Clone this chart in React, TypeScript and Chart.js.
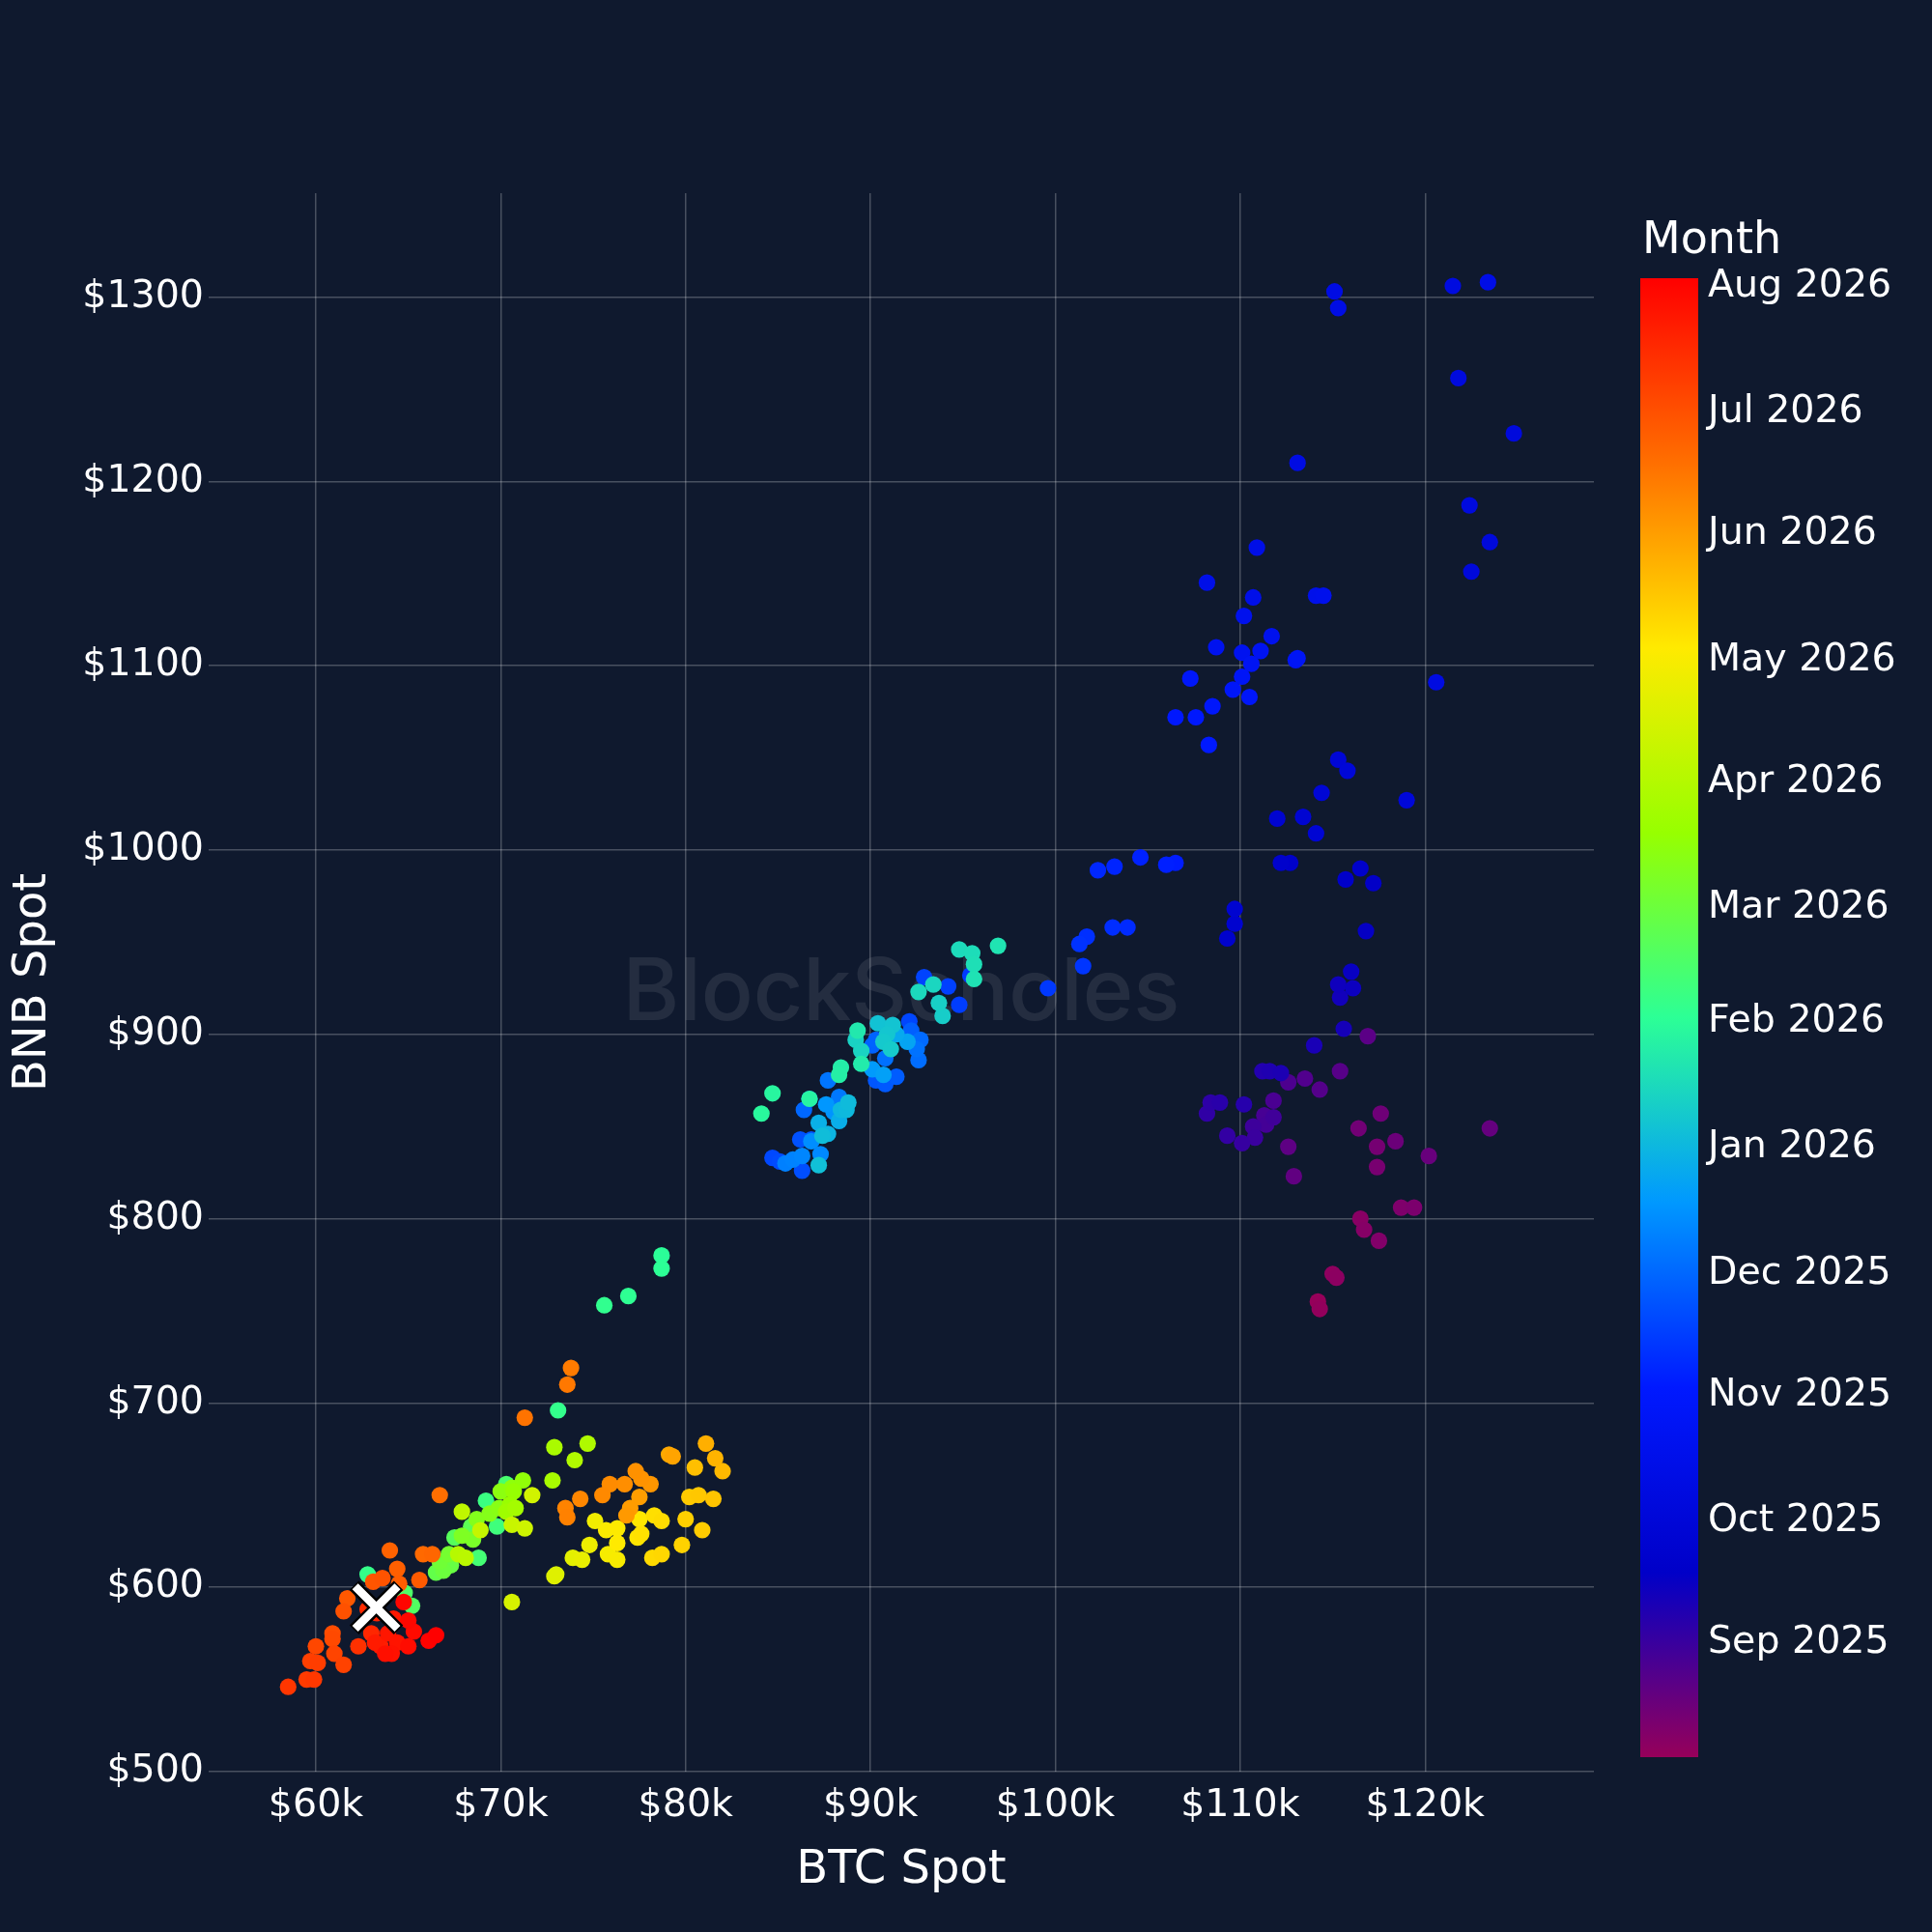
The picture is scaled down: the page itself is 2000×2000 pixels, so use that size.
import { useEffect, useRef } from "react";
import { Chart, registerables } from "chart.js";

Chart.register(...registerables);

// each point: [day of month, BTC spot ($k), BNB spot ($)]
type Pt = [number, number, number];

const aug2025: Pt[] = [
  [4, 114.2, 755], [5, 114.3, 751], [6, 115.0, 770], [7, 115.2, 768], [8, 116.5, 800],
  [9, 116.7, 794], [10, 117.5, 788], [11, 118.7, 806], [12, 119.4, 806], [13, 117.4, 828],
  [14, 117.4, 839], [15, 116.4, 849], [16, 117.6, 857], [17, 118.4, 842], [18, 120.2, 834],
  [19, 123.5, 849], [20, 112.9, 823], [21, 112.6, 839], [22, 116.9, 899], [23, 115.4, 880],
  [24, 114.3, 870], [25, 113.5, 876], [26, 112.6, 874], [27, 111.8, 864], [28, 111.3, 856],
  [29, 111.4, 851], [30, 111.8, 855], [31, 110.7, 850],
];
const sep2025: Pt[] = [
  [1, 110.8, 844], [2, 110.1, 841], [3, 109.3, 845], [4, 108.2, 857], [5, 108.4, 863],
  [6, 108.9, 863], [7, 110.2, 862], [8, 111.2, 880], [9, 111.6, 880], [10, 112.2, 879],
  [11, 114.0, 894], [12, 115.6, 903], [13, 115.4, 920], [14, 115.3, 927], [15, 116.1, 925],
  [16, 116.0, 934], [17, 116.8, 956], [18, 117.2, 982], [19, 115.7, 984], [20, 116.5, 990],
  [21, 112.7, 993], [22, 112.2, 993], [23, 109.3, 952], [24, 109.7, 960], [25, 109.7, 968],
  [26, 112.0, 1017], [27, 113.4, 1018], [28, 114.1, 1009], [29, 114.4, 1031], [30, 115.3, 1049],
];
const oct2025: Pt[] = [
  [1, 115.8, 1043], [2, 119.0, 1027], [3, 122.5, 1151], [4, 123.5, 1167], [5, 124.8, 1226],
  [6, 122.4, 1187], [7, 121.8, 1256], [8, 121.5, 1306], [9, 120.6, 1091], [10, 113.1, 1210],
  [11, 115.1, 1303], [12, 115.3, 1294], [13, 123.4, 1308], [14, 110.9, 1164], [15, 108.2, 1145],
  [16, 110.7, 1137], [17, 114.1, 1138], [18, 114.5, 1138], [19, 110.2, 1127], [20, 111.7, 1116],
  [21, 108.7, 1110], [22, 110.1, 1107], [23, 111.1, 1108], [24, 110.6, 1101], [25, 113.0, 1103],
  [26, 113.1, 1104], [27, 110.1, 1094], [28, 109.6, 1087], [29, 110.5, 1083], [30, 107.3, 1093],
  [31, 108.5, 1078],
];
const nov2025: Pt[] = [
  [1, 107.6, 1072], [2, 106.5, 1072], [3, 108.3, 1057], [4, 106.5, 993], [5, 106.0, 992],
  [6, 104.6, 996], [7, 103.2, 991], [8, 102.3, 989], [9, 103.9, 958], [10, 103.1, 958],
  [11, 101.7, 953], [12, 101.3, 949], [13, 101.5, 937], [14, 99.6, 925], [15, 95.4, 932],
  [16, 94.8, 916], [17, 94.2, 926], [18, 92.9, 931], [19, 92.1, 907], [20, 84.7, 833],
  [21, 85.1, 831], [22, 86.3, 826], [23, 86.2, 843], [24, 86.8, 843], [25, 90.3, 875],
  [26, 90.8, 873], [27, 91.4, 877], [28, 92.2, 902], [29, 90.1, 894], [30, 90.3, 897],
];
const dec2025: Pt[] = [
  [1, 86.4, 859], [2, 92.7, 897], [3, 92.6, 886], [4, 90.8, 887], [5, 92.5, 892],
  [6, 87.7, 875], [7, 88.3, 866], [8, 86.7, 865], [10, 85.4, 830], [11, 85.8, 832],
  [12, 86.3, 834], [13, 87.3, 835], [15, 86.8, 842], [17, 88.0, 858], [18, 87.6, 862],
  [20, 90.1, 881], [22, 90.7, 878], [24, 92.0, 896], [26, 91.4, 900], [28, 88.3, 853],
  [29, 87.2, 852], [31, 87.7, 846],
];
const jan2026: Pt[] = [
  [1, 88.4, 859], [2, 88.7, 859], [3, 88.8, 863], [4, 87.4, 845], [5, 87.2, 829],
  [6, 90.4, 906], [7, 91.2, 905], [8, 90.9, 900], [9, 90.7, 896], [10, 91.1, 892],
  [11, 93.9, 910], [12, 93.7, 917], [13, 89.2, 897], [14, 89.5, 891], [15, 93.4, 927],
  [16, 92.6, 923], [17, 94.8, 946], [18, 95.5, 944], [19, 95.6, 938], [20, 95.6, 930],
  [21, 96.9, 948], [23, 89.3, 902], [24, 89.5, 884], [25, 88.4, 882], [26, 88.3, 878],
  [28, 86.7, 865], [29, 84.7, 868], [30, 84.1, 857],
];
const feb2026: Pt[] = [
  [1, 78.7, 780], [2, 78.7, 773], [3, 76.9, 758], [4, 75.6, 753], [5, 73.1, 696],
  [6, 62.8, 607], [8, 69.2, 647], [10, 69.8, 633], [12, 68.8, 616], [14, 70.3, 656],
  [16, 64.8, 597], [18, 65.2, 590], [20, 67.5, 627], [22, 68.4, 633], [25, 66.5, 608],
  [27, 67.3, 612],
];
const mar2026: Pt[] = [
  [1, 66.9, 609], [3, 66.7, 614], [5, 67.2, 618], [7, 68.5, 626], [9, 67.9, 628],
  [11, 68.7, 637], [12, 69.4, 640], [13, 69.9, 643], [15, 70.0, 652], [16, 70.6, 654],
  [17, 71.2, 658], [19, 70.7, 652], [21, 70.5, 645], [23, 70.3, 641], [25, 70.8, 643],
  [27, 72.8, 658], [28, 72.9, 676], [30, 74.7, 678], [31, 74.0, 669],
];
const apr2026: Pt[] = [
  [2, 67.7, 618], [4, 68.1, 616], [6, 67.9, 641], [8, 68.9, 631], [10, 70.6, 634],
  [12, 71.3, 632], [14, 71.7, 650], [16, 70.6, 592], [18, 73.0, 607], [20, 72.9, 606],
  [22, 73.9, 616], [24, 74.4, 615], [26, 74.8, 623], [28, 75.1, 636], [30, 75.8, 618],
];
const may2026: Pt[] = [
  [1, 76.3, 615], [2, 75.7, 631], [3, 76.3, 632], [4, 76.3, 624], [5, 77.5, 637],
  [6, 77.4, 627], [7, 77.6, 629], [8, 78.3, 639], [9, 78.7, 636], [10, 78.2, 616],
  [11, 78.7, 618], [13, 79.8, 623], [14, 80.0, 637], [15, 80.9, 631], [16, 80.2, 649],
  [17, 80.7, 650], [18, 81.5, 648], [20, 80.5, 665], [22, 82.0, 663], [24, 81.6, 670],
  [26, 81.1, 678], [28, 79.1, 672], [30, 79.3, 671],
];
const jun2026: Pt[] = [
  [1, 77.5, 649], [2, 77.0, 643], [3, 76.8, 639], [4, 78.1, 656], [5, 77.6, 659],
  [6, 77.3, 663], [7, 76.7, 656], [8, 75.9, 656], [9, 75.5, 650], [10, 74.3, 648],
  [11, 73.5, 643], [12, 73.6, 638], [14, 73.8, 719], [15, 73.6, 710], [17, 71.3, 692],
  [19, 66.7, 650], [21, 65.8, 618], [22, 66.3, 618], [24, 64.0, 620], [25, 64.4, 610],
  [26, 64.5, 602], [27, 65.6, 604], [28, 61.7, 594], [29, 63.1, 603], [30, 63.6, 605],
];
const jul2026: Pt[] = [
  [1, 61.5, 587], [3, 60.9, 575], [4, 60.9, 572], [5, 60.0, 568],
  [6, 61.0, 564], [7, 61.5, 558], [8, 59.7, 560], [9, 60.1, 559], [10, 59.5, 550],
  [11, 59.9, 550], [12, 58.5, 546], [14, 62.3, 568], [16, 62.8, 588], [18, 63.0, 575],
  [20, 63.3, 586], [22, 63.5, 568], [23, 63.2, 570], [24, 64.2, 583], [25, 63.9, 575],
  [26, 64.4, 570], [27, 64.1, 564], [28, 63.75, 564], [29, 65.0, 568], [30, 65.3, 576],
  [31, 65.0, 582],
];
const aug2026: Pt[] = [[1, 64.75, 592], [2, 66.1, 571], [3, 66.5, 574]];

// [year, month index, points]
const series: [number, number, Pt[]][] = [
  [2025, 7, aug2025], [2025, 8, sep2025], [2025, 9, oct2025], [2025, 10, nov2025],
  [2025, 11, dec2025], [2026, 0, jan2026], [2026, 1, feb2026], [2026, 2, mar2026],
  [2026, 3, apr2026], [2026, 4, may2026], [2026, 5, jun2026], [2026, 6, jul2026],
  [2026, 7, aug2026],
];

// latest spot (white X)
const current = { x: 63.27, y: 589 };

const xTicks = [60, 70, 80, 90, 100, 110, 120];
const yTicks = [500, 600, 700, 800, 900, 1000, 1100, 1200, 1300];

const colorbarTicks: [number, number, string][] = [
  [2025, 8, "Sep 2025"], [2025, 9, "Oct 2025"], [2025, 10, "Nov 2025"], [2025, 11, "Dec 2025"],
  [2026, 0, "Jan 2026"], [2026, 1, "Feb 2026"], [2026, 2, "Mar 2026"], [2026, 3, "Apr 2026"],
  [2026, 4, "May 2026"], [2026, 5, "Jun 2026"], [2026, 6, "Jul 2026"], [2026, 7, "Aug 2026"],
];

const BG = "#0f192e";
const GRID = "rgba(255,255,255,0.24)";
const FONT = "'DejaVu Sans', sans-serif";

// plotly "Rainbow"
const rainbow: [number, [number, number, number]][] = [
  [0, [150, 0, 90]], [0.125, [0, 0, 200]], [0.25, [0, 25, 255]], [0.375, [0, 152, 255]],
  [0.5, [44, 255, 150]], [0.625, [151, 255, 0]], [0.75, [255, 234, 0]], [0.875, [255, 111, 0]],
  [1, [255, 0, 0]],
];

function colorAt(f: number) {
  const v = Math.max(0, Math.min(1, f));
  for (let i = 1; i < rainbow.length; i++) {
    const [p1, c1] = rainbow[i];
    const [p0, c0] = rainbow[i - 1];
    if (v <= p1) {
      const t = (v - p0) / (p1 - p0);
      const c = c0.map((a, k) => Math.round(a + (c1[k] - a) * t));
      return `rgb(${c[0]},${c[1]},${c[2]})`;
    }
  }
  return "rgb(255,0,0)";
}

export default function App() {
  const canvasRef = useRef<HTMLCanvasElement | null>(null);

  useEffect(() => {
    document.body.style.margin = "0";
    document.body.style.background = BG;
    if (!canvasRef.current) return;

    const points = series.flatMap(([yr, mo, pts]) =>
      pts.map(([d, btc, bnb]) => ({ x: btc, y: bnb, t: Date.UTC(yr, mo, d) }))
    );
    const tMin = Math.min(...points.map((p) => p.t));
    const tMax = Math.max(...points.map((p) => p.t));
    const colors = points.map((p) => colorAt((p.t - tMin) / (tMax - tMin)));

    const bar = { left: 1698, right: 1758, top: 288, bottom: 1819 };

    const background = {
      id: "background",
      beforeDraw(chart: Chart) {
        const c = chart.ctx;
        c.save();
        c.fillStyle = BG;
        c.fillRect(0, 0, chart.width, chart.height);
        c.restore();
      },
    };

    const watermark = {
      id: "watermark",
      beforeDatasetsDraw(chart: Chart) {
        const c = chart.ctx;
        c.save();
        c.font = `500 100px Inter, ${FONT}`;
        const w = c.measureText("BlockScholes").width;
        const size = (100 * 577) / w;
        c.font = `500 ${size}px Inter, ${FONT}`;
        c.fillStyle = "rgba(255,255,255,0.09)";
        c.textAlign = "center";
        c.textBaseline = "alphabetic";
        c.fillText("BlockScholes", 933, 1056);
        c.restore();
      },
    };

    const colorbar = {
      id: "colorbar",
      afterDraw(chart: Chart) {
        const c = chart.ctx;
        c.save();
        const g = c.createLinearGradient(0, bar.bottom, 0, bar.top);
        rainbow.forEach(([p, col]) => g.addColorStop(p, `rgb(${col[0]},${col[1]},${col[2]})`));
        c.fillStyle = g;
        c.fillRect(bar.left, bar.top, bar.right - bar.left, bar.bottom - bar.top);

        c.fillStyle = "#ffffff";
        c.font = `46px ${FONT}`;
        c.textAlign = "left";
        c.textBaseline = "alphabetic";
        c.fillText("Month", 1700, 262);

        c.font = `39.5px ${FONT}`;
        c.textBaseline = "middle";
        colorbarTicks.forEach(([yr, mo, label]) => {
          const t = Date.UTC(yr, mo, 1);
          const y = bar.bottom - ((t - tMin) / (tMax - tMin)) * (bar.bottom - bar.top);
          c.fillText(label, 1768, y);
        });
        c.restore();
      },
    };

    Chart.defaults.font.family = FONT;

    const chart = new Chart(canvasRef.current, {
      type: "scatter",
      data: {
        datasets: [
          {
            data: [current],
            pointStyle: "crossRot",
            pointRadius: 31,
            pointBorderWidth: 8.5,
            pointBorderColor: "#ffffff",
            order: 0,
          },
          {
            data: [current],
            pointStyle: "crossRot",
            pointRadius: 32.5,
            pointBorderWidth: 13.5,
            pointBorderColor: "#000000",
            order: 1,
          },
          {
            data: points.map((p) => ({ x: p.x, y: p.y })),
            pointRadius: 8.6,
            pointBorderWidth: 0,
            pointBackgroundColor: colors,
            order: 2,
          },
        ],
      },
      options: {
        animation: false,
        responsive: false,
        devicePixelRatio: 1,
        events: [],
        layout: { padding: { top: 200, right: 350, bottom: 0, left: 0 } },
        plugins: { legend: { display: false }, tooltip: { enabled: false } },
        scales: {
          x: {
            type: "linear",
            min: 54.2,
            max: 129.13,
            afterBuildTicks: (s: any) => {
              s.ticks = xTicks.map((v) => ({ value: v }));
            },
            afterFit: (s: any) => {
              s.height = 166;
            },
            grid: { color: GRID, lineWidth: 1.5, drawTicks: false },
            border: { display: false },
            ticks: {
              color: "#ffffff",
              font: { size: 39.5 },
              padding: 12,
              maxRotation: 0,
              callback: (v: any) => `$${v}k`,
            },
            title: {
              display: true,
              text: "BTC Spot",
              color: "#ffffff",
              font: { size: 48 },
              padding: { top: 0, bottom: 35 },
            },
          },
          y: {
            type: "linear",
            min: 500,
            max: 1356.3,
            afterBuildTicks: (s: any) => {
              s.ticks = yTicks.map((v) => ({ value: v }));
            },
            afterFit: (s: any) => {
              s.width = 216;
            },
            grid: { color: GRID, lineWidth: 1.5, drawTicks: false },
            border: { display: false },
            ticks: {
              color: "#ffffff",
              font: { size: 39.5 },
              padding: 5,
              callback: (v: any) => `$${v}`,
            },
            title: {
              display: true,
              text: "BNB Spot",
              color: "#ffffff",
              font: { size: 48 },
              padding: { top: 6, bottom: 0 },
            },
          },
        },
      },
      plugins: [background, watermark, colorbar],
    });

    return () => {
      chart.destroy();
    };
  }, []);

  return <canvas ref={canvasRef} width={2000} height={2000} style={{ display: "block" }}></canvas>;
}
